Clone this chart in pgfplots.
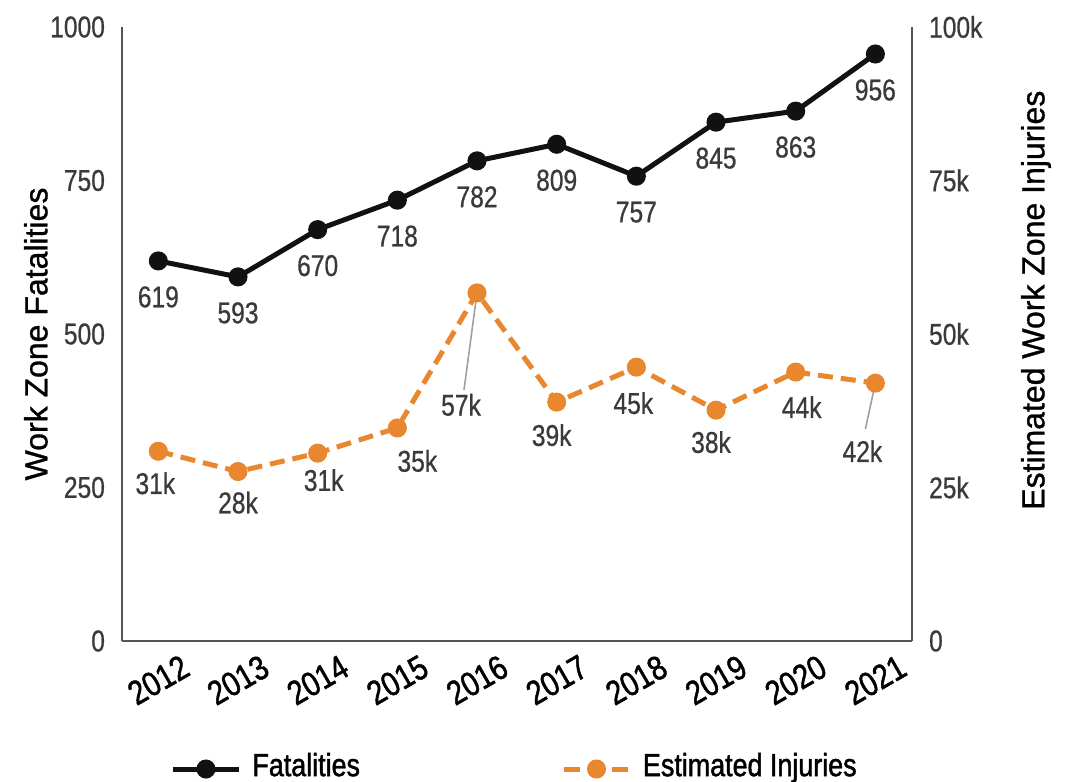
\documentclass[border=0pt]{standalone}
\usepackage{pgfplots}
\pgfplotsset{compat=1.18}
\usepackage{fontspec}
\setmainfont{Liberation Sans}
\newfontfamily\narrow{Liberation Sans}[FakeStretch=0.82, FakeBold=0.7]
\newfontfamily\narrowb{Liberation Sans}[FakeStretch=0.84, FakeBold=1.4]
\newfontfamily\regb{Liberation Sans}[FakeBold=1.0]
\definecolor{inj}{HTML}{E8872E}
\definecolor{fat}{HTML}{111111}
\definecolor{tickgray}{HTML}{3A3A3A}
\definecolor{axgray}{HTML}{555555}
\definecolor{leader}{HTML}{A0A0A0}
\tikzset{lbl/.style={font=\narrow\fontsize{15}{18}\selectfont, text=tickgray, anchor=center, inner sep=0pt}}
\begin{document}
\begin{tikzpicture}
\pgfplotsset{
  common/.style={
    scale only axis, width=395pt, height=307pt,
    at={(0,0)}, anchor=south west,
    xmin=2011.544, xmax=2021.46,
    major tick length=0pt,
    axis line style={draw=axgray, line width=1pt},
    tick label style={font=\narrow\fontsize{15}{18}\selectfont, text=tickgray},
    clip=false,
  },
}
\begin{axis}[common, name=ax,
  axis x line*=bottom, axis y line*=left,
  ymin=0, ymax=1000,
  ytick={0,250,500,750,1000}, yticklabels={0,250,500,750,1000},
  yticklabel style={anchor=east, xshift=-5pt},
  xtick={2012,2013,2014,2015,2016,2017,2018,2019,2020,2021},
  xticklabels={2012,2013,2014,2015,2016,2017,2018,2019,2020,2021},
  xticklabel style={font=\narrowb\fontsize{17}{20}\selectfont, text=black, anchor=center, yshift=-19.5pt, rotate=30},
  ylabel={Work Zone Fatalities},
  ylabel style={at={(axis description cs:-0.109,0.5)}, rotate=0, anchor=center, font=\regb\fontsize{16}{19}\selectfont, text=black},
  legend style={at={(axis description cs:0.0608,-0.2036)}, anchor=west, draw=none, fill=none, inner sep=0pt,
    legend columns=2, font=\narrowb\fontsize{16}{19}\selectfont, nodes={inner sep=0pt},
    /tikz/every odd column/.append style={column sep=5.5pt},
    /tikz/every even column/.append style={column sep=100.5pt}},
  legend image code/.code={\draw[mark repeat=2, mark phase=2, #1] plot coordinates {(0pt,-1.5pt) (16.5pt,-1.5pt) (33pt,-1.5pt)};},
]
\addplot[fat, line width=2.5pt, mark=*, mark size=3.5pt] coordinates {
  (2012,619) (2013,593) (2014,670) (2015,718) (2016,782)
  (2017,809) (2018,757) (2019,845) (2020,863) (2021,956)};
\addlegendentry{Fatalities}
\addlegendimage{inj, line width=2.5pt, dash pattern=on 8pt off 4pt, mark=*, mark size=3.5pt, mark options={solid}}
\addlegendentry{Estimated Injuries}
\node[lbl, yshift=-18pt] at (axis cs:2012,619) {619};
\node[lbl, yshift=-18pt] at (axis cs:2013,593) {593};
\node[lbl, yshift=-18pt] at (axis cs:2014,670) {670};
\node[lbl, yshift=-18pt] at (axis cs:2015,718) {718};
\node[lbl, yshift=-18pt] at (axis cs:2016,782) {782};
\node[lbl, yshift=-18pt] at (axis cs:2017,809) {809};
\node[lbl, yshift=-18pt] at (axis cs:2018,757) {757};
\node[lbl, yshift=-18pt] at (axis cs:2019,845) {845};
\node[lbl, yshift=-18pt] at (axis cs:2020,863) {863};
\node[lbl, yshift=-18pt] at (axis cs:2021,956) {956};
\end{axis}
\begin{axis}[common,
  axis y line*=right, axis x line=none,
  ymin=0, ymax=100,
  ytick={0,25,50,75,100}, yticklabels={0,25k,50k,75k,100k},
  yticklabel style={anchor=west, xshift=5pt},
  ylabel={Estimated Work Zone Injuries},
  ylabel style={at={(axis description cs:1.157,0.555)}, rotate=0, anchor=center, font=\regb\fontsize{16}{19}\selectfont, text=black},
]
\draw[leader, line width=0.8pt] (axis cs:2016,56.7) -- ([xshift=-6.5pt, yshift=-48.5pt]axis cs:2016,56.7);
\draw[leader, line width=0.8pt] (axis cs:2021,42.0) -- ([xshift=-5pt, yshift=-23pt]axis cs:2021,42.0);
\addplot[inj, line width=2.5pt, dash pattern=on 7.5pt off 4pt, mark=*, mark size=3.5pt, mark options={solid}] coordinates {
  (2012,30.9) (2013,27.6) (2014,30.6) (2015,34.7) (2016,56.7)
  (2017,38.9) (2018,44.6) (2019,37.6) (2020,43.8) (2021,42.0)};
\node[lbl, xshift=-1.5pt, yshift=-16pt] at (axis cs:2012,30.9) {31k};
\node[lbl, xshift=0pt, yshift=-15.5pt] at (axis cs:2013,27.6) {28k};
\node[lbl, xshift=3pt, yshift=-13.5pt] at (axis cs:2014,30.6) {31k};
\node[lbl, xshift=10pt, yshift=-16.5pt] at (axis cs:2015,34.7) {35k};
\node[lbl, xshift=-8pt, yshift=-56pt] at (axis cs:2016,56.7) {57k};
\node[lbl, xshift=-2.5pt, yshift=-16.5pt] at (axis cs:2017,38.9) {39k};
\node[lbl, xshift=-1.5pt, yshift=-18pt] at (axis cs:2018,44.6) {45k};
\node[lbl, xshift=-2.5pt, yshift=-16pt] at (axis cs:2019,37.6) {38k};
\node[lbl, xshift=3pt, yshift=-17.5pt] at (axis cs:2020,43.8) {44k};
\node[lbl, xshift=-6.5pt, yshift=-34pt] at (axis cs:2021,42.0) {42k};
\end{axis}
\pgfresetboundingbox
\path (ax.south west) ++(-61pt,-70pt) rectangle ++(534pt,390.5pt);
\end{tikzpicture}
\end{document}
